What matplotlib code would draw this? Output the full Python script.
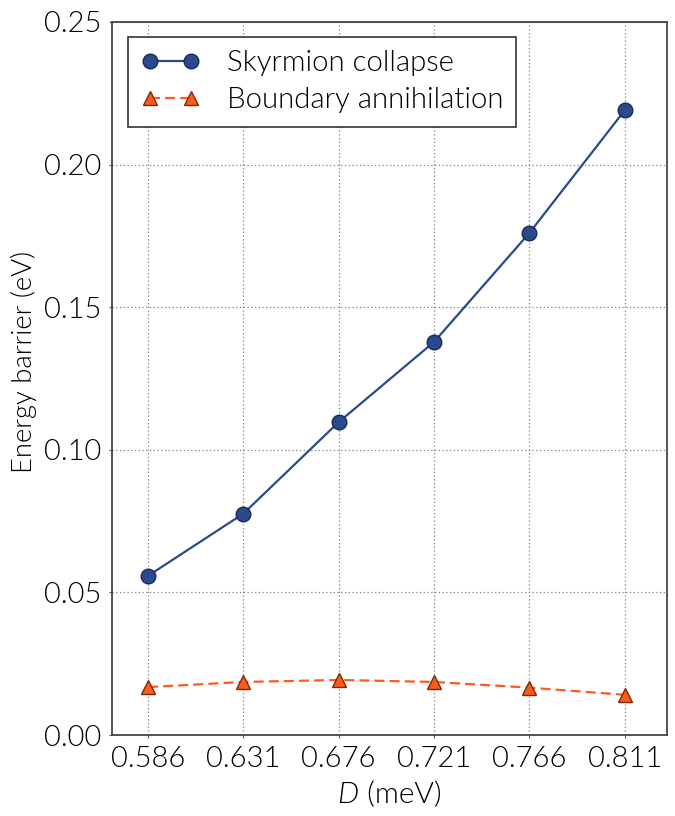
import matplotlib
matplotlib.use("Agg")
import matplotlib.pyplot as plt
from matplotlib import font_manager as fm

D = [0.586, 0.631, 0.676, 0.721, 0.766, 0.811]
skyrmion = [0.0558, 0.0776, 0.1097, 0.1378, 0.1760, 0.2190]
boundary = [0.0168, 0.0186, 0.0193, 0.0186, 0.0166, 0.0141]


def lato_file(name):
    for f in fm.fontManager.ttflist:
        if f.fname.endswith(name):
            return f.fname
    return None


light = lato_file("Lato-Light.ttf")
light_it = lato_file("Lato-LightItalic.ttf")


def fp(size, italic=False):
    path = light_it if italic else light
    if path:
        return fm.FontProperties(fname=path, size=size)
    return fm.FontProperties(family=["Lato", "DejaVu Sans"], size=size)


fig = plt.figure(figsize=(6.75, 8.16), dpi=100)
ax = fig.add_axes([112 / 675, 81 / 816, 555 / 675, 713 / 816])

ax.plot(D, skyrmion, "-o", color="#2b4a8e", markerfacecolor="#2b4a8e",
        markeredgecolor="#1a2a55", markersize=10.5, linewidth=1.6,
        label="Skyrmion collapse")
ax.plot(D, boundary, linestyle=(0, (4.5, 2.3)), marker="^", color="#ff5a1a",
        markerfacecolor="#ff5a1a", markeredgecolor="#7a2a0a",
        markersize=10.5, linewidth=1.6, label="Boundary annihilation")

ax.set_xlim(0.569, 0.831)
ax.set_ylim(0, 0.25)
ax.set_xticks(D)
ax.set_xticklabels([f"{d:.3f}" for d in D])
ax.set_yticks([0, 0.05, 0.10, 0.15, 0.20, 0.25])
ax.set_yticklabels(["0.00", "0.05", "0.10", "0.15", "0.20", "0.25"])
ax.tick_params(length=2, color="#555555", pad=6)
for lab in ax.get_xticklabels() + ax.get_yticklabels():
    lab.set_fontproperties(fp(21))
ax.grid(color="gray", linestyle=(0, (1, 2)), linewidth=0.9)
for s in ax.spines.values():
    s.set_color("#444444")
    s.set_linewidth(1.3)

# x label: italic D followed by upright unit, centred under the axes
t_d = ax.text(0.5, -0.0954, "D", transform=ax.transAxes, ha="left",
              va="baseline", fontproperties=fp(21.5, italic=True))
t_u = ax.text(0.5, -0.0954, " (meV)", transform=ax.transAxes, ha="left",
              va="baseline", fontproperties=fp(21.5))
fig.canvas.draw()
r = fig.canvas.get_renderer()
w_d = t_d.get_window_extent(r).width / ax.bbox.width
w_u = t_u.get_window_extent(r).width / ax.bbox.width
x0 = 0.5 - (w_d + w_u) / 2
t_d.set_x(x0)
t_u.set_x(x0 + w_d)

ax.set_ylabel("Energy barrier (eV)", fontproperties=fp(19.8))
ax.yaxis.set_label_coords(-0.136, 0.523)

leg = ax.legend(loc="upper left", prop=fp(21.2), fancybox=False,
                edgecolor="#333333", framealpha=1, numpoints=2,
                handlelength=2.0, handletextpad=0.9, borderpad=0.45,
                labelspacing=0.38, borderaxespad=0,
                bbox_to_anchor=(16 / 555, 0.979))
leg.get_frame().set_linewidth(1.2)

fig.savefig("out.png", dpi=100)
